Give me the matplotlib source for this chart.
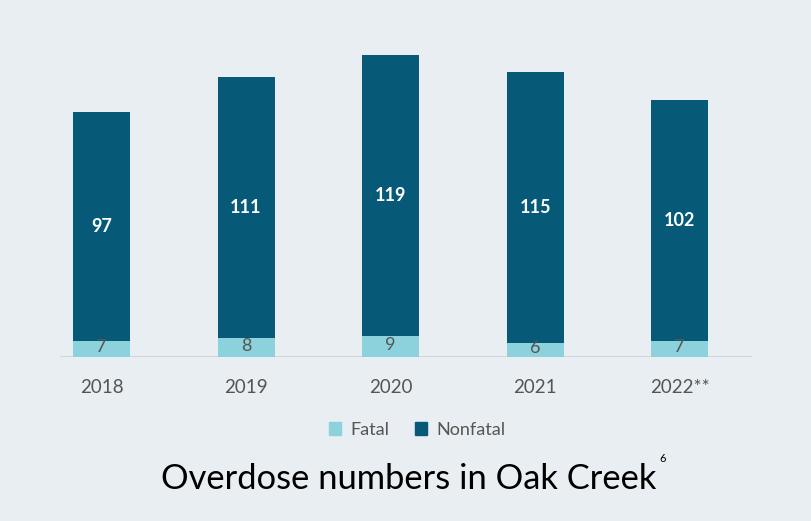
import matplotlib
matplotlib.use("Agg")
import matplotlib.pyplot as plt

years = ["2018", "2019", "2020", "2021", "2022**"]
fatal = [7, 8, 9, 6, 7]
nonfatal = [97, 111, 119, 115, 102]

BG = "#e8eef2"
DARK = "#065a78"
LIGHT = "#8cd2dc"

plt.rcParams["font.family"] = ["Lato", "DejaVu Sans"]

fig = plt.figure(figsize=(8.12, 5.21), dpi=100, facecolor=BG)
W, H = 812, 521
# axes in pixel space: left 60, right 752, baseline 357, top 40
ax = fig.add_axes([60 / W, 1 - 357 / H, (752 - 60) / W, (357 - 40) / H])
ax.set_facecolor(BG)

x = list(range(len(years)))
ax.bar(x, fatal, width=0.394, color=LIGHT, zorder=2)
ax.bar(x, nonfatal, width=0.394, bottom=fatal, color=DARK, zorder=2)

for i in x:
    ax.text(i, fatal[i] / 2 + 0.8, str(fatal[i]), ha="center", va="center",
            fontsize=13, color="#555555", zorder=3)
    ax.text(i, fatal[i] + nonfatal[i] / 2, str(nonfatal[i]), ha="center", va="center",
            fontsize=13, color="white", fontweight="bold", zorder=3)

ax.set_xlim(-0.287, 4.50)
ax.set_ylim(0, 134.5)
ax.axhline(0, color="#cfd3d6", lw=2, zorder=1)
for s in ax.spines.values():
    s.set_visible(False)
ax.set_yticks([])
ax.set_xticks(x)
ax.set_xticklabels(years, fontsize=13.5, color="#555555")
ax.tick_params(axis="x", length=0, pad=16)

handles = [plt.Rectangle((0, 0), 1, 1, color=LIGHT),
           plt.Rectangle((0, 0), 1, 1, color=DARK)]
fig.legend(handles, ["Fatal", "Nonfatal"], loc="center", bbox_to_anchor=(417 / W, 1 - 430 / H),
           ncol=2, frameon=False, fontsize=13, handlelength=0.7, handleheight=0.7,
           handletextpad=0.5, columnspacing=1.4, labelcolor="#555555")

fig.text(409 / W, 1 - 479 / H, "Overdose numbers in Oak Creek", ha="center", va="center",
         fontsize=24.8, color="black")
fig.text(663 / W, 1 - 458 / H, "6", ha="center", va="center", fontsize=8, color="black")

fig.savefig("out.png", dpi=100, facecolor=BG)
